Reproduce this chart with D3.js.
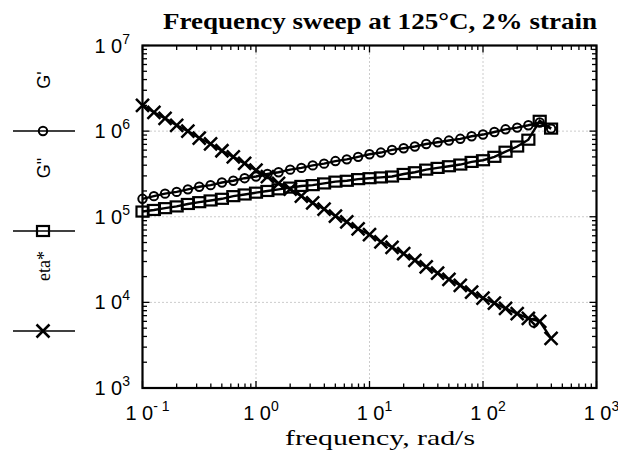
<!DOCTYPE html>
<html>
<head>
<meta charset="UTF-8">
<script src="https://d3js.org/d3.v7.min.js"></script>
<style>
  body { margin: 0; background: #fff; }
  svg { display: block; }
  .tick-label { font-family: "Liberation Sans", Arial, sans-serif; font-size: 20px; fill: #000; }
</style>
</head>
<body>
<svg id="chart" width="618" height="452"></svg>
<script>
// data
const freq = [0.1, 0.126, 0.158, 0.2, 0.251, 0.316, 0.398, 0.501, 0.631, 0.794,
  1, 1.26, 1.58, 2, 2.51, 3.16, 3.98, 5.01, 6.31, 7.94,
  10, 12.6, 15.8, 20, 25.1, 31.6, 39.8, 50.1, 63.1, 79.4,
  100, 126, 158, 200, 251, 316, 398];
const gPrime = [1.62e5, 1.74e5, 1.86e5, 1.95e5, 2.09e5, 2.24e5, 2.34e5, 2.51e5, 2.63e5, 2.82e5,
  2.95e5, 3.16e5, 3.31e5, 3.55e5, 3.72e5, 3.98e5, 4.17e5, 4.47e5, 4.68e5, 5.01e5,
  5.37e5, 5.62e5, 6.03e5, 6.31e5, 6.61e5, 7.08e5, 7.41e5, 7.76e5, 8.13e5, 8.71e5,
  9.12e5, 9.77e5, 1.05e6, 1.10e6, 1.17e6, 1.26e6, 1.07e6];
const gDouble = [1.15e5, 1.20e5, 1.26e5, 1.32e5, 1.41e5, 1.48e5, 1.55e5, 1.62e5, 1.74e5, 1.82e5,
  1.91e5, 2.0e5, 2.09e5, 2.19e5, 2.29e5, 2.34e5, 2.45e5, 2.57e5, 2.63e5, 2.75e5,
  2.82e5, 2.88e5, 2.95e5, 3.16e5, 3.31e5, 3.55e5, 3.72e5, 3.89e5, 4.07e5, 4.37e5,
  4.57e5, 5.01e5, 5.75e5, 6.61e5, 7.94e5, 1.32e6, 1.07e6];
const eta = [2.0e6, 1.66e6, 1.41e6, 1.17e6, 1.0e6, 8.3e5, 7.1e5, 5.9e5, 5.0e5, 4.2e5,
  3.5e5, 2.95e5, 2.45e5, 2.1e5, 1.74e5, 1.45e5, 1.23e5, 1.02e5, 8.7e4, 7.2e4,
  6.2e4, 5.1e4, 4.4e4, 3.7e4, 3.1e4, 2.6e4, 2.2e4, 1.86e4, 1.58e4, 1.32e4,
  1.12e4, 9.8e3, 8.5e3, 7.4e3, 6.5e3, 6.0e3, 3.8e3];
// stray open circle sitting on the end of the eta* curve
const strayFreq = [280];
const strayVal = [5.8e3];

const xTicks = [0.1, 1, 10, 100, 1000];
const xTickExp = ["- 1", "0", "1", "2", "3"];
const yTicks = [1e3, 1e4, 1e5, 1e6, 1e7];
const yTickExp = ["3", "4", "5", "6", "7"];

const svg = d3.select("#chart");
const pLeft = 142.5, pRight = 596.5, pTop = 45.5, pBottom = 388;

const x = d3.scaleLog().domain([0.1, 1000]).range([pLeft, pRight]);
const y = d3.scaleLog().domain([1e3, 1e7]).range([pBottom, pTop]);

// grid
svg.append("g").selectAll("line").data(xTicks.slice(1, -1)).join("line")
  .attr("x1", d => x(d)).attr("x2", d => x(d))
  .attr("y1", pTop).attr("y2", pBottom)
  .attr("stroke", "#999").attr("stroke-width", 1).attr("stroke-dasharray", "1,3");
svg.append("g").selectAll("line").data(yTicks.slice(1, -1)).join("line")
  .attr("x1", pLeft).attr("x2", pRight)
  .attr("y1", d => y(d)).attr("y2", d => y(d))
  .attr("stroke", "#999").attr("stroke-width", 1).attr("stroke-dasharray", "1,3");

// ticks on all four sides, pointing in
const xMinor = [], yMinor = [];
for (let e = -1; e < 3; e++) for (let k = 2; k < 10; k++) xMinor.push(k * Math.pow(10, e));
for (let e = 3; e < 7; e++) for (let k = 2; k < 10; k++) yMinor.push(k * Math.pow(10, e));

const tk = svg.append("g").attr("stroke", "#000").attr("stroke-width", 1.3);
[[xMinor, 4.5], [xTicks, 7]].forEach(([vals, len]) => {
  tk.append("g").selectAll("line").data(vals).join("line")
    .attr("x1", d => x(d)).attr("x2", d => x(d)).attr("y1", pBottom).attr("y2", pBottom - len);
  tk.append("g").selectAll("line").data(vals).join("line")
    .attr("x1", d => x(d)).attr("x2", d => x(d)).attr("y1", pTop).attr("y2", pTop + len);
});
[[yMinor, 4.5], [yTicks, 7]].forEach(([vals, len]) => {
  tk.append("g").selectAll("line").data(vals).join("line")
    .attr("y1", d => y(d)).attr("y2", d => y(d)).attr("x1", pLeft).attr("x2", pLeft + len);
  tk.append("g").selectAll("line").data(vals).join("line")
    .attr("y1", d => y(d)).attr("y2", d => y(d)).attr("x1", pRight).attr("x2", pRight - len);
});

// frame
svg.append("rect").attr("x", pLeft).attr("y", pTop)
  .attr("width", pRight - pLeft).attr("height", pBottom - pTop)
  .attr("fill", "none").attr("stroke", "#000").attr("stroke-width", 2.2);

// tick labels
function powLabel(sel, exp) {
  sel.append("tspan").text("1 0");
  sel.append("tspan").attr("dy", -9).attr("font-size", 14).text(exp);
}
xTicks.forEach((t, i) => {
  const txt = svg.append("text").attr("class", "tick-label")
    .attr("x", x(t) + 5).attr("y", 420).attr("text-anchor", "middle");
  powLabel(txt, xTickExp[i]);
});
yTicks.forEach((t, i) => {
  const txt = svg.append("text").attr("class", "tick-label")
    .attr("x", 130).attr("y", y(t) + 7).attr("text-anchor", "end");
  powLabel(txt, yTickExp[i]);
});

// series
const series = [
  { name: "G'", values: gPrime, marker: "circle", legendY: 131, textY: 80, font: "Liberation Sans, Arial, sans-serif" },
  { name: "G\"", values: gDouble, marker: "square", legendY: 231, textY: 168, font: "Liberation Sans, Arial, sans-serif" },
  { name: "eta*", values: eta, marker: "cross", legendY: 331, textY: 266, font: "Liberation Serif, serif" }
];

const line = d3.line().x(d => x(d[0])).y(d => y(d[1]));

function drawMarker(g, marker, cx, cy) {
  if (marker === "circle") {
    g.append("circle").attr("cx", cx).attr("cy", cy).attr("r", 4.2)
      .attr("fill", "none").attr("stroke", "#000").attr("stroke-width", 2);
  } else if (marker === "square") {
    g.append("rect").attr("x", cx - 6).attr("y", cy - 5).attr("width", 12).attr("height", 10)
      .attr("fill", "none").attr("stroke", "#000").attr("stroke-width", 2.2);
  } else {
    g.append("path").attr("d", `M${cx - 6.5},${cy - 6.5}L${cx + 6.5},${cy + 6.5}M${cx - 6.5},${cy + 6.5}L${cx + 6.5},${cy - 6.5}`)
      .attr("stroke", "#000").attr("stroke-width", 2.5);
  }
}

series.forEach(s => {
  const pts = freq.map((f, i) => [f, s.values[i]]);
  svg.append("path").datum(pts).attr("d", line)
    .attr("fill", "none").attr("stroke", "#000").attr("stroke-width", 2.4);
  const mg = svg.append("g");
  pts.forEach(p => drawMarker(mg, s.marker, x(p[0]), y(p[1])));

  // legend on the left
  const lg = svg.append("g");
  lg.append("line").attr("x1", 13).attr("x2", 75).attr("y1", s.legendY).attr("y2", s.legendY)
    .attr("stroke", "#000").attr("stroke-width", 1.4);
  drawMarker(lg, s.marker, 43, s.legendY);
  lg.append("text").attr("transform", `translate(50,${s.textY}) rotate(-90)`)
    .attr("text-anchor", "middle")
    .attr("font-family", s.font).attr("font-size", 18)
    .text(s.name);
});

strayFreq.forEach((f, i) => drawMarker(svg.append("g"), "circle", x(f), y(strayVal[i])));

// title and axis label
svg.append("text").attr("x", 380).attr("y", 29).attr("text-anchor", "middle")
  .attr("font-family", "Liberation Serif, serif").attr("font-weight", "bold").attr("font-size", 24)
  .attr("textLength", 434).attr("lengthAdjust", "spacingAndGlyphs")
  .text("Frequency sweep at 125\u00B0C, 2% strain");
svg.append("text").attr("x", 380).attr("y", 445).attr("text-anchor", "middle")
  .attr("font-family", "Liberation Serif, serif").attr("font-size", 22)
  .attr("textLength", 190).attr("lengthAdjust", "spacingAndGlyphs")
  .text("frequency, rad/s");
</script>
</body>
</html>
